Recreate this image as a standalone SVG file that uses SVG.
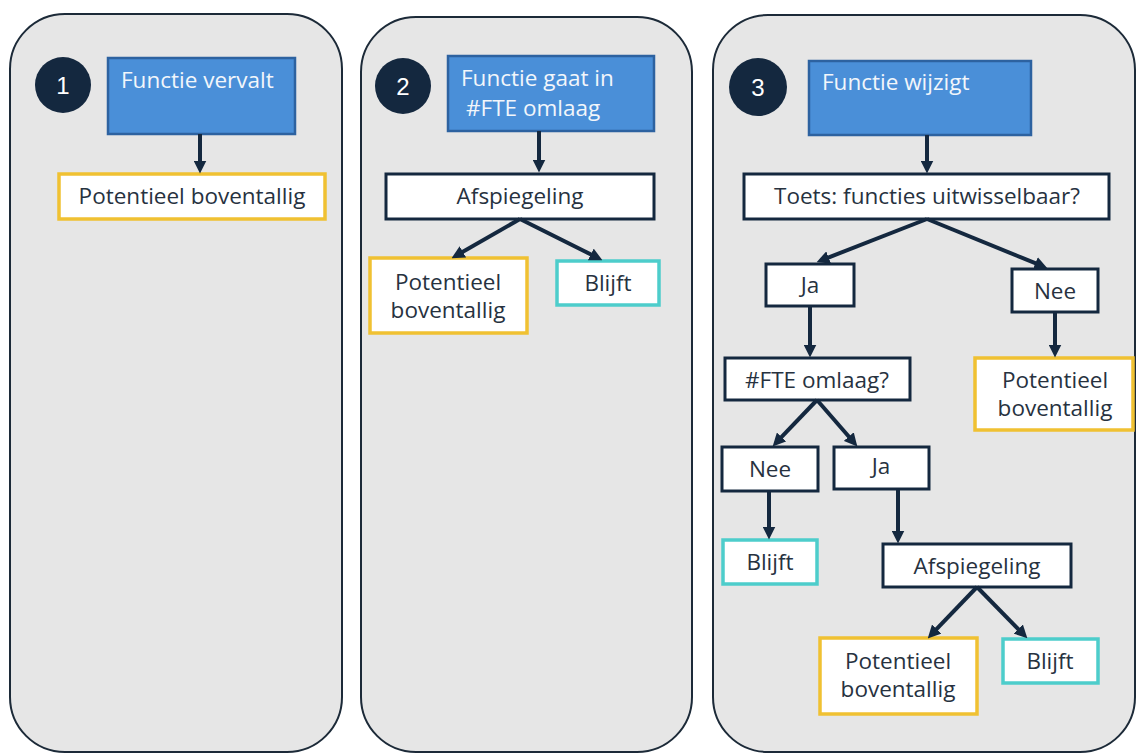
<svg xmlns="http://www.w3.org/2000/svg" width="1137" height="754" viewBox="0 0 1137 754">
<defs>
<marker id="ah" viewBox="0 0 12 12" refX="6" refY="6" markerWidth="13" markerHeight="13" markerUnits="userSpaceOnUse" orient="auto">
<path d="M0,0 L12,6 L0,12 z" fill="#14283f"/>
</marker>
</defs>
<style>
.panel{fill:#e6e6e6;stroke:#1c2a38;stroke-width:2}
.num{fill:#14283f}
.numt{fill:#ffffff;font-family:"Liberation Sans",Arial,sans-serif;font-size:24px;text-anchor:middle}
.blue{fill:#4a8fd8;stroke:#2d62a0;stroke-width:2.5}
.bt{fill:#f2f6fb;font-family:"Open Sans","Noto Sans",sans-serif;font-size:22.5px}
.dk{fill:#ffffff;stroke:#14283f;stroke-width:3}
.ye{fill:#ffffff;stroke:#f0c132;stroke-width:3.5}
.cy{fill:#ffffff;stroke:#4dcdcb;stroke-width:3.5}
.t{fill:#27323f;font-family:"Open Sans","Noto Sans",sans-serif;font-size:22.5px;text-anchor:middle}
.c line{stroke:#14283f;stroke-width:4;marker-end:url(#ah)}
</style>
<rect width="1137" height="754" fill="#ffffff"/>
<g id="panel1">
<rect class="panel" x="10" y="14" width="332" height="738" rx="55" ry="55"/>
</g>
<g id="panel2">
<rect class="panel" x="361" y="17" width="331" height="735" rx="55" ry="55"/>
</g>
<g id="panel3">
<rect class="panel" x="713" y="15" width="422" height="737" rx="55" ry="55"/>
</g>
<g id="badge1"><circle class="num" cx="63" cy="85" r="28"/><text class="numt" x="63" y="94">1</text></g>
<g id="badge2"><circle class="num" cx="403" cy="86" r="28"/><text class="numt" x="403" y="95">2</text></g>
<g id="badge3"><circle class="num" cx="758" cy="87" r="29"/><text class="numt" x="758" y="96">3</text></g>

<g id="p1-start"><rect class="blue" x="108" y="58" width="187" height="76"/><text class="bt" x="121" y="88">Functie vervalt</text></g>
<g id="p1-boven"><rect class="ye" x="59" y="174" width="266" height="45"/><text class="t" x="192" y="204">Potentieel boventallig</text></g>

<g id="p2-start"><rect class="blue" x="448" y="56" width="206" height="75"/><text class="bt" x="461" y="86">Functie gaat in</text><text class="bt" x="466" y="116">#FTE omlaag</text></g>
<g id="p2-afsp"><rect class="dk" x="386" y="174" width="268" height="45"/><text class="t" x="520" y="204">Afspiegeling</text></g>
<g id="p2-boven"><rect class="ye" x="370" y="258" width="157" height="75"/><text class="t" x="448" y="290">Potentieel</text><text class="t" x="448" y="318">boventallig</text></g>
<g id="p2-blijft"><rect class="cy" x="557" y="261" width="102" height="44"/><text class="t" x="608" y="291">Blijft</text></g>

<g id="p3-start"><rect class="blue" x="809" y="61" width="222" height="74"/><text class="bt" x="822" y="90">Functie wijzigt</text></g>
<g id="p3-toets"><rect class="dk" x="744" y="174" width="365" height="45"/><text class="t" x="927" y="204">Toets: functies uitwisselbaar?</text></g>
<g id="p3-ja"><rect class="dk" x="766" y="264" width="88" height="42"/><text class="t" x="810" y="293">Ja</text></g>
<g id="p3-nee"><rect class="dk" x="1012" y="269" width="86" height="43"/><text class="t" x="1055" y="299">Nee</text></g>
<g id="p3-fte"><rect class="dk" x="725" y="358" width="185" height="42"/><text class="t" x="817" y="388">#FTE omlaag?</text></g>
<g id="p3-boven1"><rect class="ye" x="975" y="358" width="158" height="72"/><text class="t" x="1055" y="388">Potentieel</text><text class="t" x="1055" y="416">boventallig</text></g>
<g id="p3-nee2"><rect class="dk" x="722" y="447" width="96" height="44"/><text class="t" x="770" y="477">Nee</text></g>
<g id="p3-ja2"><rect class="dk" x="834" y="447" width="95" height="42"/><text class="t" x="881" y="474">Ja</text></g>
<g id="p3-blijft1"><rect class="cy" x="723" y="540" width="94" height="44"/><text class="t" x="770" y="570">Blijft</text></g>
<g id="p3-afsp"><rect class="dk" x="883" y="544" width="188" height="43"/><text class="t" x="977" y="574">Afspiegeling</text></g>
<g id="p3-boven2"><rect class="ye" x="820" y="638" width="157" height="76"/><text class="t" x="898" y="669">Potentieel</text><text class="t" x="898" y="697">boventallig</text></g>
<g id="p3-blijft2"><rect class="cy" x="1003" y="639" width="95" height="44"/><text class="t" x="1050" y="669">Blijft</text></g>

<g id="connectors" class="c">
<line x1="200" y1="134" x2="200" y2="167"/>
<line x1="539" y1="131" x2="539" y2="166"/>
<line x1="520" y1="219" x2="457.2" y2="255"/>
<line x1="520" y1="219" x2="596.6" y2="257.3"/>
<line x1="927" y1="135" x2="927" y2="167"/>
<line x1="927" y1="219" x2="822.6" y2="259.8"/>
<line x1="927" y1="219" x2="1041.4" y2="265.7"/>
<line x1="810" y1="306" x2="810" y2="351"/>
<line x1="1055" y1="312" x2="1055" y2="351"/>
<line x1="817" y1="400" x2="777.1" y2="441.7"/>
<line x1="817" y1="400" x2="853.1" y2="441.5"/>
<line x1="769" y1="491" x2="769" y2="533"/>
<line x1="898" y1="489" x2="898" y2="537"/>
<line x1="977" y1="587" x2="932.2" y2="633.7"/>
<line x1="977" y1="587" x2="1022.8" y2="633.7"/>
</g>
</svg>
